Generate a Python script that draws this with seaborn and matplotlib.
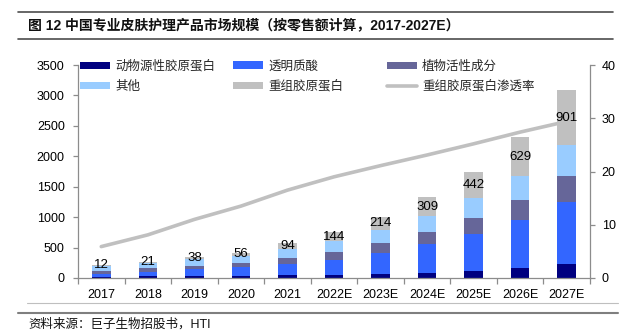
import numpy as np
import matplotlib
matplotlib.use('Agg')
import matplotlib.pyplot as plt
import seaborn as sns
from matplotlib.lines import Line2D
from matplotlib.patches import Patch

# ---------------- data ----------------
years = ['2017', '2018', '2019', '2020', '2021', '2022E', '2023E',
         '2024E', '2025E', '2026E', '2027E']
animal = [20, 25, 30, 35, 50, 50, 60, 82, 120, 170, 230]
hyaluronic = [50, 80, 115, 145, 178, 250, 345, 476, 607, 777, 1018]
plant = [45, 55, 58, 70, 96, 122, 165, 192, 258, 339, 432]
other = [90, 86, 107, 113, 156, 184, 223, 268, 323, 394, 504]
recombinant = [12, 21, 38, 56, 94, 144, 214, 309, 442, 629, 901]
penetration = [5.9, 8.1, 11.0, 13.5, 16.5, 19.0, 21.1, 23.1, 25.2, 27.4, 29.4]

series_names = ['动物源性胶原蛋白', '透明质酸', '植物活性成分', '其他', '重组胶原蛋白']
rate_name = '重组胶原蛋白渗透率'
title = '图 12 中国专业皮肤护理产品市场规模（按零售额计算，2017-2027E）'
source = '资料来源：巨子生物招股书，HTI'

colors = ['#000080', '#3366FF', '#666699', '#99CCFF', '#C0C0C0']
line_color = '#C0C0C0'
axis_color = '#8C8C8C'

# ---------------- style ----------------
sns.set_theme(style='ticks')
plt.rcParams['font.family'] = ['Liberation Sans', 'Noto Sans CJK SC']
plt.rcParams['axes.unicode_minus'] = False

W, H = 628, 332
fig = plt.figure(figsize=(W / 100, H / 100), dpi=100)
fig.patch.set_facecolor('white')

x0, x1, y_top, y_bot = 78, 590, 65, 278
ax = fig.add_axes([x0 / W, 1 - y_bot / H, (x1 - x0) / W, (y_bot - y_top) / H])
ax2 = ax.twinx()

# ---------------- stacked bars ----------------
stack = np.array([animal, hyaluronic, plant, other, recombinant], dtype=float)
cum = np.cumsum(stack, axis=0)
for i in range(len(series_names) - 1, -1, -1):
    sns.barplot(x=years, y=cum[i], order=years, color=colors[i], width=0.4,
                saturation=1, errorbar=None, linewidth=0, ax=ax)

for i, v in enumerate(recombinant):
    ax.text(i, cum[3][i] + v / 2, str(v), ha='center', va='center',
            fontsize=9.5, color='#000000', zorder=5)

# ---------------- line on secondary axis ----------------
sns.lineplot(x=np.arange(len(years)), y=penetration, ax=ax2,
             color=line_color, linewidth=2.6)

ax.set_ylim(0, 3500)
ax.set_yticks(np.arange(0, 3501, 500))
ax2.set_ylim(0, 40)
ax2.set_yticks([0, 10, 20, 30, 40])
ax.set_xlim(-0.5, len(years) - 0.5)
ax.set_xlabel('')
ax.set_ylabel('')
ax2.set_ylabel('')

# bars above line
ax.set_zorder(ax2.get_zorder() + 1)
ax.patch.set_visible(False)

# spines
for s in ['top', 'right']:
    ax.spines[s].set_visible(False)
for s in ['top', 'left', 'bottom']:
    ax2.spines[s].set_visible(False)
ax.spines['left'].set_color(axis_color)
ax.spines['bottom'].set_color(axis_color)
ax2.spines['right'].set_color(axis_color)
for sp in [ax.spines['left'], ax.spines['bottom'], ax2.spines['right']]:
    sp.set_linewidth(0.9)

# ticks
ax.set_xticks(np.arange(len(years)))
ax.set_xticklabels(years)
ax.set_xticks(np.arange(-0.5, len(years), 1.0), minor=True)
ax.tick_params(axis='x', which='major', length=0, pad=8, labelsize=9, labelcolor='black')
ax.tick_params(axis='x', which='minor', length=4, width=0.9, color=axis_color, direction='out')
ax.tick_params(axis='y', which='major', length=3.5, width=0.9, color=axis_color,
               direction='out', pad=6, labelsize=9, labelcolor='black', left=True)
ax2.tick_params(axis='y', which='major', length=3.5, width=0.9, color=axis_color,
                direction='out', pad=5, labelsize=9, labelcolor='black', right=True)

# ---------------- legend (3 columns) ----------------
handles = [Patch(facecolor=c, edgecolor='none') for c in colors]
handles.append(Line2D([0], [0], color=line_color, lw=2.6))
labels = series_names + [rate_name]
col_items = [[0, 3], [1, 4], [2, 5]]
col_x = [80, 233, 387]
legs = []
for cx, items in zip(col_x, col_items):
    leg = ax.legend([handles[k] for k in items], [labels[k] for k in items],
                    loc='center left', bbox_to_anchor=(cx / W, 1 - 76.5 / H),
                    bbox_transform=fig.transFigure, frameon=False, fontsize=9,
                    handlelength=2.4, handleheight=0.5, handletextpad=0.4,
                    labelspacing=0.6, borderpad=0, borderaxespad=0)
    legs.append(leg)
for leg in legs[:-1]:
    ax.add_artist(leg)

# ---------------- title, rules, source ----------------
fig.add_artist(Line2D([18 / W, 613 / W], [1 - 12 / H] * 2, color='#4D4D4D', lw=1.2))
fig.add_artist(Line2D([18 / W, 613 / W], [1 - 39 / H] * 2, color='#4D4D4D', lw=1.2))
fig.text(28 / W, 1 - 25.5 / H, title, fontsize=10, fontweight='bold',
         ha='left', va='center', color='#111111')
fig.add_artist(Line2D([27 / W, 618 / W], [1 - 303 / H] * 2, color='#BFBFBF', lw=0.8))
fig.add_artist(Line2D([18 / W, 618 / W], [1 - 313 / H] * 2, color='#7F7F7F', lw=1.5))
fig.text(28 / W, 1 - 324 / H, source, fontsize=9, ha='left', va='center', color='#111111')

fig.savefig('out.png', dpi=100, facecolor='white')
